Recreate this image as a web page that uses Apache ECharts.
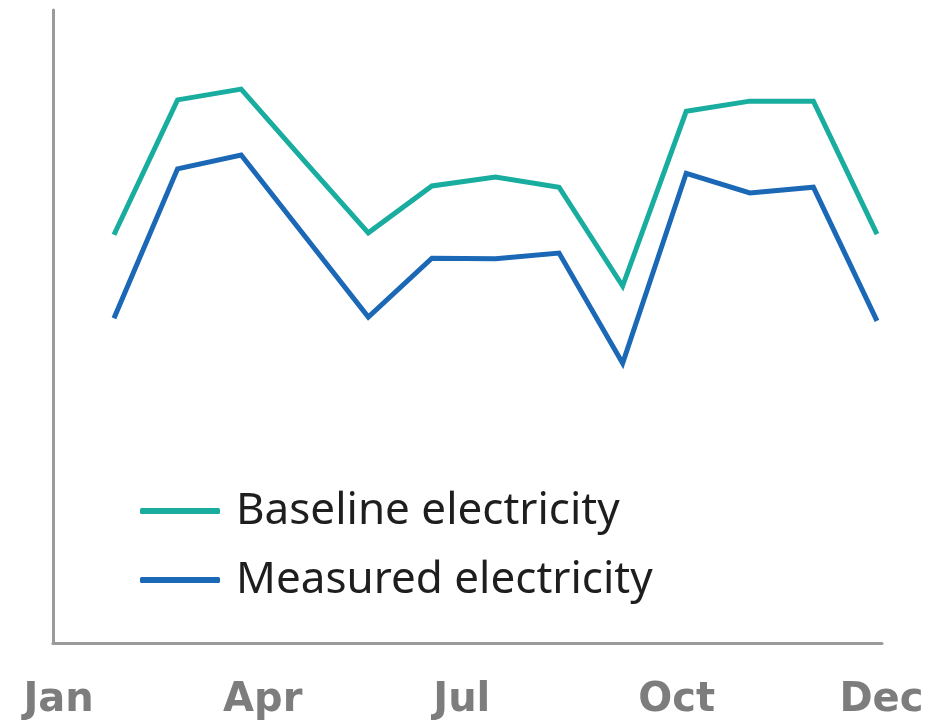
<!DOCTYPE html>
<html>
<head>
<meta charset="utf-8">
<style>
  html, body { margin: 0; padding: 0; background: #ffffff; }
  #chart { width: 938px; height: 722px; }
</style>
<script src="https://cdn.jsdelivr.net/npm/echarts@6/dist/echarts.min.js"></script>
</head>
<body>
<div id="chart"></div>
<script>
// Monthly electricity profile: baseline vs measured (relative units)
const seriesNames = ['Baseline electricity', 'Measured electricity'];
const baselineValues = [64.5, 85.8, 87.5, 76.1, 64.8, 72.2, 73.6, 72.0, 56.4, 84.0, 85.6, 85.6, 64.6];
const measuredValues = [51.3, 74.9, 77.1, 64.3, 51.5, 60.8, 60.7, 61.6, 44.2, 74.2, 71.1, 72.0, 50.9];
const monthLabels = ['Jan', 'Apr', 'Jul', 'Oct', 'Dec'];
const monthLabelValues = [-0.87, 2.34, 5.47, 8.85, 12.07];

const toPairs = arr => arr.map((v, i) => [i, v]);

const chart = echarts.init(document.getElementById('chart'), null, { renderer: 'canvas' });

chart.setOption({
  animation: false,
  backgroundColor: '#ffffff',
  grid: { left: 53, top: 10, right: 56, bottom: 79, containLabel: false },
  xAxis: {
    type: 'value',
    min: -0.959,
    max: 12.079,
    splitLine: { show: false },
    axisTick: { show: false },
    axisLine: { show: true, onZero: false, lineStyle: { color: '#9a9a9a', width: 3 } },
    axisLabel: {
      show: true,
      customValues: monthLabelValues,
      formatter: function (val) {
        let best = 0;
        monthLabelValues.forEach((p, i) => {
          if (Math.abs(p - val) < Math.abs(monthLabelValues[best] - val)) best = i;
        });
        return monthLabels[best];
      },
      margin: 38,
      color: '#7d7d7d',
      fontFamily: 'DejaVu Sans',
      fontWeight: 'bold',
      fontSize: 40,
      showMinLabel: true,
      showMaxLabel: true
    }
  },
  yAxis: {
    type: 'value',
    min: 0,
    max: 100,
    splitLine: { show: false },
    axisTick: { show: false },
    axisLabel: { show: false },
    axisLine: { show: true, onZero: false, lineStyle: { color: '#9a9a9a', width: 3 } }
  },
  legend: {
    show: true,
    orient: 'vertical',
    left: 135,
    top: 481,
    icon: 'roundRect',
    itemWidth: 80,
    itemHeight: 6,
    itemGap: 19,
    textStyle: {
      fontFamily: 'Noto Sans',
      fontSize: 44,
      lineHeight: 50,
      color: '#1e1e1e',
      padding: [0, 0, 0, 11]
    },
    data: seriesNames
  },
  series: [
    {
      name: seriesNames[0],
      type: 'line',
      data: toPairs(baselineValues),
      symbol: 'none',
      lineStyle: { color: '#19ad9f', width: 5, join: 'miter' },
      itemStyle: { color: '#19ad9f' }
    },
    {
      name: seriesNames[1],
      type: 'line',
      data: toPairs(measuredValues),
      symbol: 'none',
      lineStyle: { color: '#1a68b6', width: 5, join: 'miter' },
      itemStyle: { color: '#1a68b6' }
    }
  ]
});
</script>
</body>
</html>
